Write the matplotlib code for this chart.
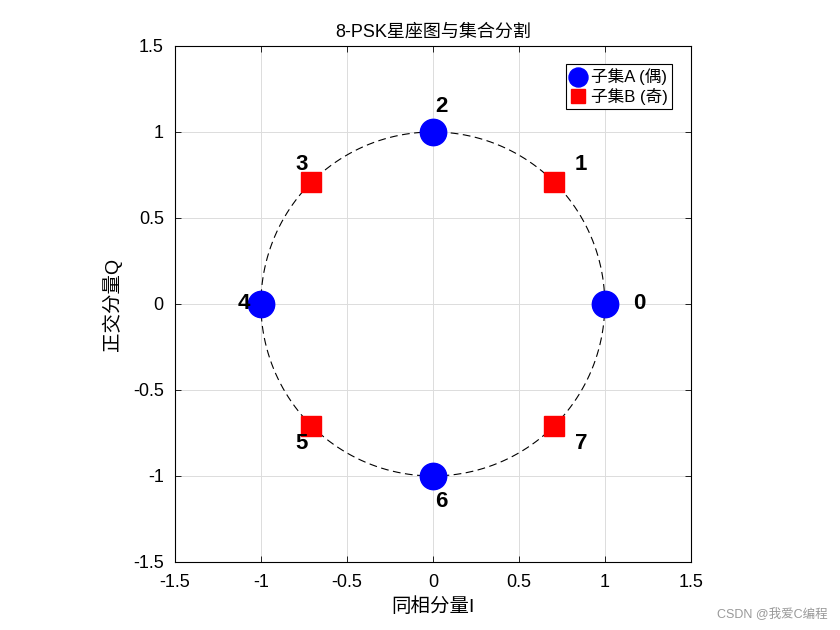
import numpy as np
import matplotlib.pyplot as plt

plt.rcParams['font.family'] = ['Arial', 'Liberation Sans', 'Noto Sans CJK SC', 'DejaVu Sans']

# 8-PSK symbol indices and split into subsets
symbols = [0, 1, 2, 3, 4, 5, 6, 7]
subset_a = [0, 2, 4, 6]   # even
subset_b = [1, 3, 5, 7]   # odd
label_radius = 1.15
label_shift = 0.05
ticks = [-1.5, -1, -0.5, 0, 0.5, 1, 1.5]
tick_labels = ['-1.5', '-1', '-0.5', '0', '0.5', '1', '1.5']

ang = 2 * np.pi * np.array(symbols) / 8
sx = np.cos(ang)
sy = np.sin(ang)

fig = plt.figure(figsize=(8.4, 6.3), dpi=100)
ax = fig.add_axes([0.2083, 0.108, 0.614, 0.819])

# unit circle
t = np.linspace(0, 2 * np.pi, 400)
ax.plot(np.cos(t), np.sin(t), 'k--', lw=0.8, dashes=(7, 4))

ax.plot(sx[subset_a], sy[subset_a], 'o', color='#0000ff', ms=19, ls='none', label='子集A (偶)')
ax.plot(sx[subset_b], sy[subset_b], 's', color='#ff0000', ms=14, ls='none', label='子集B (奇)')

for k in symbols:
    ax.text(label_radius * sx[k] + label_shift, label_radius * sy[k], str(k),
            fontsize=16, fontweight='bold', ha='center', va='center')

ax.set_xlim(-1.5, 1.5)
ax.set_ylim(-1.5, 1.5)
ax.set_xticks(ticks)
ax.set_xticklabels(tick_labels)
ax.set_yticks(ticks)
ax.set_yticklabels(tick_labels)
ax.tick_params(direction='in', labelsize=13, length=4, width=0.6, top=True, right=True,
               labeltop=False, labelright=False)
ax.tick_params(axis='x', pad=9)
ax.tick_params(axis='y', pad=8)
ax.grid(True, color='#dcdcdc', lw=0.7)
ax.set_axisbelow(True)
for sp in ax.spines.values():
    sp.set_linewidth(0.8)

ax.set_title('8-PSK星座图与集合分割', fontsize=13, pad=7)
ax.set_xlabel('同相分量I', fontsize=14, labelpad=4)
ax.set_ylabel('正交分量Q', fontsize=14, labelpad=8)

leg = ax.legend(loc='upper right', fontsize=12, fancybox=False, edgecolor='black',
                framealpha=1, markerscale=0.72, handlelength=1.0, handletextpad=0.3,
                borderpad=0.25, labelspacing=0.15, borderaxespad=1.1)
leg.get_frame().set_linewidth(0.8)

fig.text(0.985, 0.015, 'CSDN @我爱C编程', color='#999999', fontsize=9, ha='right', va='bottom')

fig.savefig('out.png')
